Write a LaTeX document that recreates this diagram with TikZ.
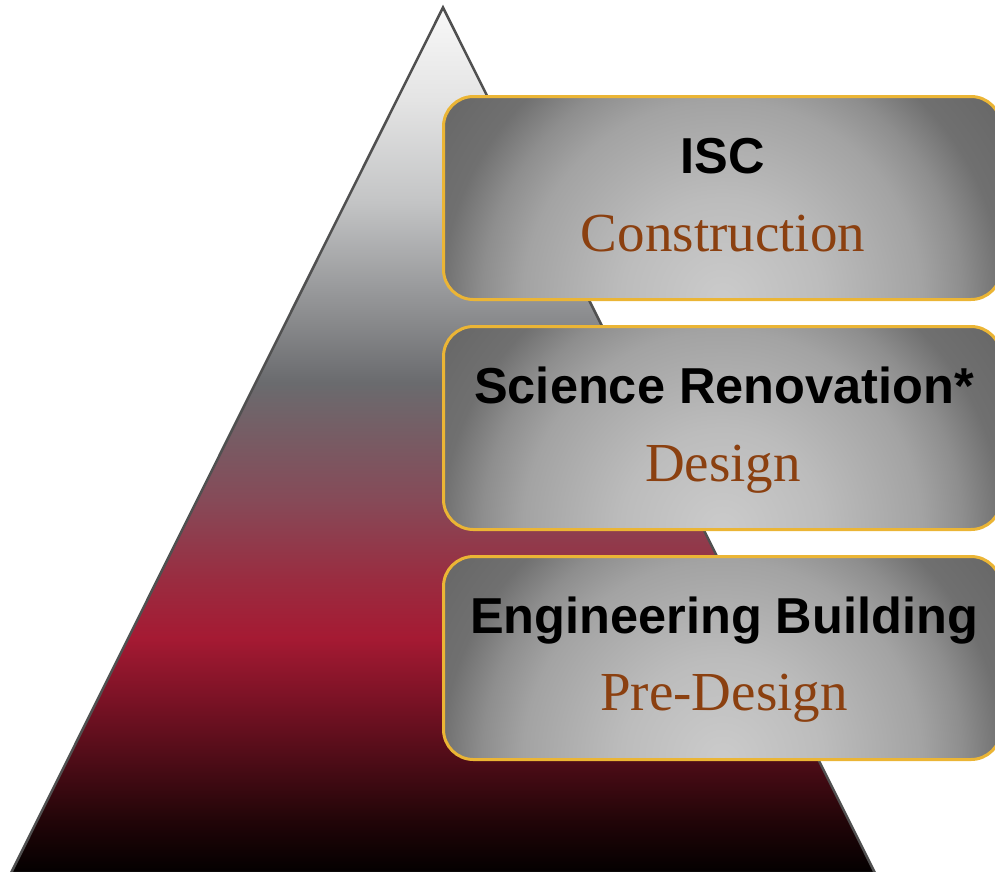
\documentclass[tikz,border=0pt]{standalone}
\usepackage{fontspec}
\setmainfont{Liberation Serif}
\setsansfont{Liberation Sans}

\definecolor{pyr0}{HTML}{030000}
\definecolor{pyr1}{HTML}{220508}
\definecolor{pyr2}{HTML}{4E0C17}
\definecolor{pyr3}{HTML}{7A1225}
\definecolor{pyr4}{HTML}{A51A33}
\definecolor{pyr5}{HTML}{9A2C40}
\definecolor{pyr6}{HTML}{864A58}
\definecolor{pyr7}{HTML}{6A6B6E}
\definecolor{pyr8}{HTML}{939496}
\definecolor{pyr9}{HTML}{C4C5C6}
\definecolor{pyr10}{HTML}{E4E4E4}
\definecolor{pyr11}{HTML}{F8F8F8}
\definecolor{pyredge}{HTML}{505050}
\definecolor{boxlight}{HTML}{CBCBCB}
\definecolor{boxsoft}{HTML}{BCBCBC}
\definecolor{boxmid}{HTML}{A3A3A3}
\definecolor{boxgray}{HTML}{8E8E8E}
\definecolor{boxdark}{HTML}{707070}
\definecolor{boxedge}{HTML}{666666}
\definecolor{boxgold}{HTML}{EBB535}
\definecolor{phasebrown}{RGB}{139,64,16}

\pgfdeclareverticalshading{pyramidshade}{100bp}{color(0bp)=(pyr0); color(25bp)=(pyr0);
  color(28.06bp)=(pyr1); color(31.53bp)=(pyr2); color(34.99bp)=(pyr3);
  color(38.58bp)=(pyr4); color(41.93bp)=(pyr5); color(46.55bp)=(pyr6);
  color(53.31bp)=(pyr7); color(58.10bp)=(pyr8); color(63.88bp)=(pyr9);
  color(69.66bp)=(pyr10); color(75bp)=(pyr11); color(100bp)=(pyr11)}
\pgfdeclareradialshading{boxglow}{\pgfpointorigin}{color(0bp)=(boxlight);
  color(4.2bp)=(boxsoft); color(8.3bp)=(boxmid); color(10bp)=(boxgray);
  color(11.7bp)=(boxdark); color(14.5bp)=(boxedge); color(50bp)=(boxedge)}

\begin{document}
\begin{tikzpicture}[x=1pt,y=-1pt]

    \tikzset{boxstyle/.style={draw=boxgold, line width=3pt, rounded corners=30pt,
        minimum width=557.5pt, minimum height=203pt, inner sep=0pt, outer sep=0pt,
        path picture={\shade[shading=boxglow] (path picture bounding box.south) circle (600pt);}}}
    \tikzset{titlestyle/.style={font=\sffamily\bfseries\fontsize{50.5}{60}\selectfont, anchor=base, inner sep=0pt}}
    \tikzset{phasestyle/.style={font=\rmfamily\fontsize{55}{66}\selectfont, text=phasebrown, anchor=base, inner sep=0pt}}

    \useasboundingbox (0,0) rectangle (995,871);

    % Piramide.
    \coordinate (apex) at (443, 7.5);
    \coordinate (pl) at (11, 873);
    \coordinate (pr) at (875, 873);
    \path[shade, shading=pyramidshade, draw=pyredge, line width=2.5pt, line join=miter]
        (apex) -- (pl) -- (pr) -- cycle;

    \node[boxstyle] (b1) at (722.25, 198) {};
    \node[boxstyle] (b2) at (722.25, 428) {};
    \node[boxstyle] (b3) at (722.25, 658) {};

    \node[titlestyle] (t1) at (723, 173.3) {ISC};
    \node[phasestyle] (s1) at (723, 251.7) {Construction};

    \node[titlestyle] (t2) at (724, 403.3) {Science Renovation*};
    \node[phasestyle] (s2) at (723, 481.7) {Design};

    \node[titlestyle] (t3) at (724, 633.3) {Engineering Building};
    \node[phasestyle] (s3) at (724, 710) {Pre-Design};

\end{tikzpicture}
\end{document}
